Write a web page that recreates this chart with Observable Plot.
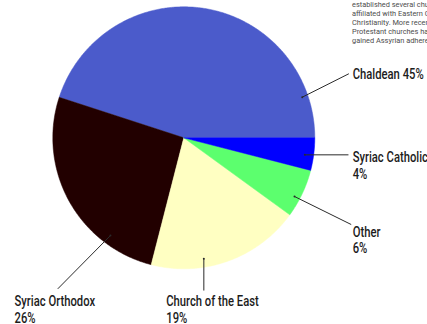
<!DOCTYPE html>
<html>
<head>
<meta charset="utf-8">
<script src="https://cdn.jsdelivr.net/npm/d3@7"></script>
<script src="https://cdn.jsdelivr.net/npm/@observablehq/plot@0.6"></script>
<style>
  html, body { margin: 0; padding: 0; background: #fff; }
  #wrap { position: relative; width: 427px; height: 324px; overflow: hidden; }
  #note {
    position: absolute; left: 352px; top: -0.5px; width: 140px;
    font-family: Roboto, "Liberation Sans", Arial, sans-serif; font-size: 7.4px; line-height: 9.2px;
    color: #4d4d4d; white-space: nowrap;
  }
</style>
</head>
<body>
<div id="wrap">
  <div id="note">established several churches<br>affiliated with Eastern Catholic<br>Christianity. More recently,<br>Protestant churches have<br>gained Assyrian adherents.</div>
</div>
<script>
// Data
const categories = ["Chaldean", "Syriac Orthodox", "Church of the East", "Other", "Syriac Catholic"];
const shares = [45, 26, 19, 6, 4];
const colors = ["#4b5bcb", "#220000", "#ffffc2", "#5cff6e", "#0000ff"];
const labelLines = [
  ["Chaldean 45%"],
  ["Syriac Orthodox", "26%"],
  ["Church of the East", "19%"],
  ["Other", "6%"],
  ["Syriac Catholic", "4%"]
];
// leader line start/end and label anchor, in units of the pie radius (centre = 0,0)
const leaderStart = [[0.904, 0.310], [-0.560, -0.746], [0.153, -0.924], [0.845, -0.448], [0.924, -0.130]];
const leaderEnd   = [[1.260, 0.489], [-0.962, -1.153], [0.153, -1.166], [1.278, -0.662], [1.257, -0.130]];
const labelAnchor = [[1.289, 0.538], [-1.292, -1.190], [-0.134, -1.190], [1.289, -0.662], [1.289, -0.090]];

// Slice outlines (counter-clockwise from 3 o'clock)
const total = d3.sum(shares);
const slicePts = [];
let acc = 0;
categories.forEach((name, i) => {
  const a0 = acc / total * 2 * Math.PI;
  acc += shares[i];
  const a1 = acc / total * 2 * Math.PI;
  const n = Math.max(2, Math.ceil((a1 - a0) / (Math.PI / 360)));
  slicePts.push({name, x: 0, y: 0});
  for (let k = 0; k <= n; k++) {
    const a = a0 + (a1 - a0) * k / n;
    slicePts.push({name, x: Math.cos(a), y: Math.sin(a)});
  }
  slicePts.push({name, x: 0, y: 0});
});

const leaders = categories.map((name, i) => ({
  name, x1: leaderStart[i][0], y1: leaderStart[i][1], x2: leaderEnd[i][0], y2: leaderEnd[i][1]
}));
const labels = categories.map((name, i) => ({
  name, x: labelAnchor[i][0], y: labelAnchor[i][1], text: labelLines[i].join("\n")
}));

const chart = Plot.plot({
  width: 427, height: 324,
  marginTop: 0, marginRight: 0, marginBottom: 0, marginLeft: 0,
  x: {domain: [-1, 1], range: [52.3, 314.3], axis: null},
  y: {domain: [-1, 1], range: [268.3, 6.3], axis: null},
  color: {domain: categories, range: colors},
  style: {background: "transparent"},
  marks: [
    Plot.line(slicePts, {x: "x", y: "y", z: "name", fill: "name", stroke: "name", strokeWidth: 0.5, curve: "linear"}),
    Plot.link(leaders, {x1: "x1", y1: "y1", x2: "x2", y2: "y2", stroke: "#2a2a2a", strokeWidth: 1}),
    Plot.dot(leaders, {x: "x1", y: "y1", r: 1, fill: "#2a2a2a", stroke: null}),
    Plot.text(labels, {
      x: "x", y: "y", text: "text", textAnchor: "start", lineAnchor: "top",
      fontSize: 15, fontWeight: 500, lineHeight: 1.13, fill: "#1c1c1c", className: "lbl",
      fontFamily: "Roboto, 'Liberation Sans', sans-serif"
    })
  ]
});
// condense the label glyphs horizontally (DIN-condensed look)
chart.querySelectorAll("g.lbl text").forEach(t => {
  const tr = t.getAttribute("transform") || "";
  t.setAttribute("transform", tr + " scale(0.75 1)");
});
document.getElementById("wrap").prepend(chart);
</script>
</body>
</html>
